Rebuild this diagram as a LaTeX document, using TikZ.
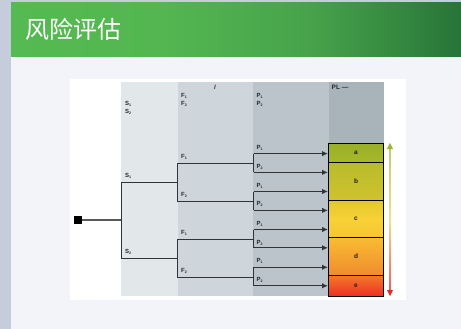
\documentclass[tikz,border=0pt]{standalone}
\usepackage{fontspec}
\setmainfont{Liberation Sans}
\newfontfamily\cjkfont{Noto Sans CJK SC}
\usetikzlibrary{arrows.meta}
\definecolor{outerbg}{HTML}{C5CDDC}
\definecolor{slidebg}{HTML}{F3F4F9}
\definecolor{linedark}{HTML}{2E3437}
\definecolor{labelgrey}{HTML}{23282B}
\pgfdeclarehorizontalshading{headershade}{100bp}{
  rgb(0bp)=(0.337,0.729,0.322);
  rgb(25bp)=(0.337,0.729,0.322);
  rgb(42bp)=(0.325,0.714,0.314);
  rgb(58bp)=(0.280,0.640,0.295);
  rgb(67bp)=(0.215,0.545,0.255);
  rgb(75bp)=(0.150,0.455,0.215);
  rgb(100bp)=(0.150,0.455,0.215)}
\newcommand\sublab[2]{\textbf{#1}\raisebox{-1pt}{\fontsize{3.6}{3.6}\selectfont\textbf{#2}}}
\tikzset{
  x=1pt,y=-1pt,
  band/.style={draw=none,inner sep=0pt,outer sep=0pt,anchor=north west},
  lab/.style={inner sep=0pt,anchor=west,text=labelgrey,font=\fontsize{6}{6}\selectfont},
  wire/.style={draw=linedark,line width=1.25pt},
  feed/.style={wire,-{Latex[length=6pt,width=5.5pt]}},
  plbox/.style={band,draw=black,line width=1pt,minimum width=55pt,text=black!80!brown,font=\fontsize{6.5}{6.5}\selectfont\bfseries,anchor=north west}
}
\begin{document}
\begin{tikzpicture}
\useasboundingbox (0,0) rectangle (461,329);
% backgrounds
\fill[outerbg] (0,0) rectangle (461,329);
\fill[slidebg] (11,3) rectangle (461,329);
\shade[shading=headershade] (11,3) rectangle (461,57);
\node[inner sep=0pt,anchor=west,text=white,font=\cjkfont\fontsize{24}{24}\selectfont] (title) at (25,29) {风险评估};
\fill[white] (70,79) rectangle (406,300);
% columns
\fill[color={rgb,255:red,226;green,231;blue,234}] (121,82) rectangle (178,296);
\fill[color={rgb,255:red,206;green,214;blue,219}] (178,82) rectangle (253,296);
\fill[color={rgb,255:red,186;green,196;blue,202}] (253,82) rectangle (329,296);
\fill[color={rgb,255:red,168;green,179;blue,186}] (329,82) rectangle (384,143);
% PL boxes
\node[plbox,minimum height=19.5pt,top color={rgb,255:red,152;green,175;blue,40},bottom color={rgb,255:red,168;green,184;blue,42}] (a) at (328.5,143) {a};
\node[plbox,minimum height=37.7pt,top color={rgb,255:red,184;green,188;blue,44},bottom color={rgb,255:red,208;green,194;blue,46}] (b) at (328.5,162.5) {b};
\node[plbox,minimum height=37.7pt,top color={rgb,255:red,224;green,200;blue,48},bottom color={rgb,255:red,248;green,196;blue,50},middle color={rgb,255:red,247;green,210;blue,53}] (c) at (328.5,200.2) {c};
\node[plbox,minimum height=37.5pt,top color={rgb,255:red,248;green,188;blue,50},bottom color={rgb,255:red,240;green,140;blue,46}] (d) at (328.5,237.8) {d};
\node[plbox,minimum height=20.7pt,top color={rgb,255:red,244;green,122;blue,40},bottom color={rgb,255:red,238;green,48;blue,36}] (e) at (328.5,275.3) {e};
% side arrow
\shade[top color={rgb,255:red,190;green,205;blue,110},bottom color={rgb,255:red,243;green,222;blue,140}] (389.3,148) rectangle (390.9,220);
\shade[top color={rgb,255:red,243;green,222;blue,140},bottom color={rgb,255:red,240;green,90;blue,90}] (389.3,220) rectangle (390.9,291);
\coordinate (uptipl) at (386.9,149);
\coordinate (uptip) at (390,143);
\coordinate (uptipr) at (393.1,149);
\coordinate (dntipl) at (386.9,290);
\coordinate (dntip) at (390,296);
\coordinate (dntipr) at (393.1,290);
\fill[color={rgb,255:red,155;green,180;blue,50}] (uptipl) -- (uptip) -- (uptipr) -- cycle;
\fill[color={rgb,255:red,232;green,40;blue,40}] (dntipl) -- (dntip) -- (dntipr) -- cycle;
% tree
\node[fill=black,minimum size=8pt,inner sep=0pt] (root) at (78,220) {};
\coordinate (rj) at (121.5,220);
\coordinate (s1) at (121.5,182.4); \coordinate (s1e) at (177.6,182.4);
\coordinate (s2) at (121.5,258.4); \coordinate (s2e) at (177.6,258.4);
\coordinate (f1a) at (177.6,163.4); \coordinate (f1ae) at (253.5,163.4);
\coordinate (f2a) at (177.6,201.4); \coordinate (f2ae) at (253.5,201.4);
\coordinate (f1b) at (177.6,239.4); \coordinate (f1be) at (253.5,239.4);
\coordinate (f2b) at (177.6,277.4); \coordinate (f2be) at (253.5,277.4);
\coordinate (p1) at (253.5,153.6); \coordinate (t1) at (328,153.6);
\coordinate (p2) at (253.5,172.4); \coordinate (t2) at (328,172.4);
\coordinate (p3) at (253.5,191.5); \coordinate (t3) at (328,191.5);
\coordinate (p4) at (253.5,210.4); \coordinate (t4) at (328,210.4);
\coordinate (p5) at (253.5,229.5); \coordinate (t5) at (328,229.5);
\coordinate (p6) at (253.5,247.8); \coordinate (t6) at (328,247.8);
\coordinate (p7) at (253.5,267.3); \coordinate (t7) at (328,267.3);
\coordinate (p8) at (253.5,285.8); \coordinate (t8) at (328,285.8);
\draw[wire,draw=gray!70!black] (root) -- (rj);
\draw[wire] (s1e) -- (s1) -- (s2) -- (s2e);
\draw[wire] (f1ae) -- (f1a) -- (f2a) -- (f2ae);
\draw[wire] (f1be) -- (f1b) -- (f2b) -- (f2be);
\draw[feed] (p2) -- (t2);
\draw[feed] (p1) -- (t1);
\draw[feed] (p3) -- (t3);
\draw[feed] (p4) -- (t4);
\draw[feed] (p5) -- (t5);
\draw[feed] (p6) -- (t6);
\draw[feed] (p7) -- (t7);
\draw[feed] (p8) -- (t8);
\draw[wire] (p1) -- (p2);
\draw[wire] (p3) -- (p4);
\draw[wire] (p5) -- (p6);
\draw[wire] (p7) -- (p8);
% header labels
\node[lab] (hS1) at (125,104) {\sublab{S}{1}};
\node[lab] (hS2) at (125,112) {\sublab{S}{2}};
\node[lab] (hF1) at (181,96) {\sublab{F}{1}};
\node[lab] (hF2) at (181,104) {\sublab{F}{2}};
\node[lab] (hP1) at (256.5,96) {\sublab{P}{1}};
\node[lab] (hP2) at (256.5,104) {\sublab{P}{2}};
\node[lab,font=\fontsize{6}{6}\selectfont\itshape\bfseries] (hl) at (214,87) {l};
\node[lab,font=\fontsize{6.5}{6.5}\selectfont\bfseries] (hPL) at (331.5,87) {PL —};
% branch labels
\node[lab] (lS1) at (125,176) {\sublab{S}{1}};
\node[lab] (lS2) at (125,252) {\sublab{S}{2}};
\node[lab] (lF1a) at (181,157) {\sublab{F}{1}};
\node[lab] (lF2a) at (181,195) {\sublab{F}{2}};
\node[lab] (lF1b) at (181,233) {\sublab{F}{1}};
\node[lab] (lF2b) at (181,271) {\sublab{F}{2}};
\node[lab] (lP1) at (256.5,147.5) {\sublab{P}{1}};
\node[lab] (lP2) at (256.5,166.5) {\sublab{P}{2}};
\node[lab] (lP3) at (256.5,185.5) {\sublab{P}{1}};
\node[lab] (lP4) at (256.5,204) {\sublab{P}{2}};
\node[lab] (lP5) at (256.5,223.5) {\sublab{P}{1}};
\node[lab] (lP6) at (256.5,242.5) {\sublab{P}{2}};
\node[lab] (lP7) at (256.5,261) {\sublab{P}{1}};
\node[lab] (lP8) at (256.5,280) {\sublab{P}{2}};
\end{tikzpicture}
\end{document}
